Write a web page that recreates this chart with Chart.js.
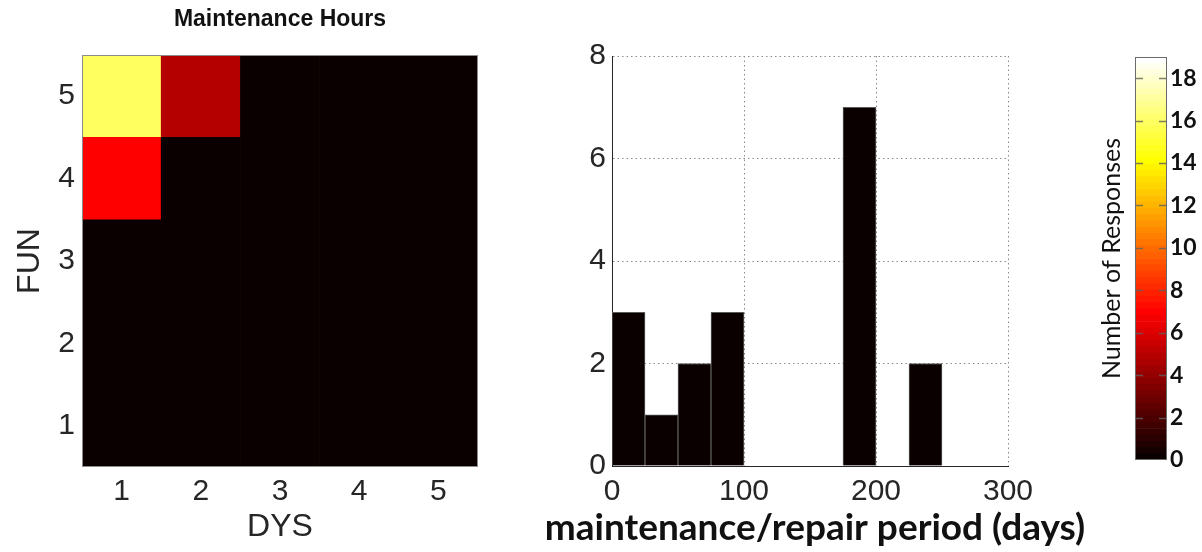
<!DOCTYPE html>
<html>
<head>
<meta charset="utf-8">
<title>Maintenance Hours</title>
<script src="https://cdn.jsdelivr.net/npm/chart.js@4.4.0/dist/chart.umd.min.js"></script>
<style>
  html, body { margin: 0; padding: 0; background: #ffffff; }
  #wrap { position: relative; width: 1202px; height: 552px; overflow: hidden; background: #ffffff; }
  .panel { position: absolute; top: 0; height: 552px; }
  #p1 { left: 0; width: 500px; }
  #p2 { left: 500px; width: 620px; }
  #p3 { left: 1060px; width: 142px; }
</style>
</head>
<body>
<div id="wrap">
  <div class="panel" id="p1"><canvas id="heat"></canvas></div>
  <div class="panel" id="p2"><canvas id="hist"></canvas></div>
  <div class="panel" id="p3"><canvas id="cbar"></canvas></div>
</div>
<script>
// ---- Heat map: responses by DYS (columns) and FUN (rows) ----
const dysLabels = ['1', '2', '3', '4', '5'];
const funLevels = [1, 2, 3, 4, 5];
const fun1 = [0, 0, 0, 0, 0];
const fun2 = [0, 0, 0, 0, 0];
const fun3 = [0, 0, 0, 0, 0];
const fun4 = [7, 0, 0, 0, 0];
const fun5 = [16, 5, 0, 0, 0];
const heatRows = [fun1, fun2, fun3, fun4, fun5];

// ---- Histogram of maintenance/repair period ----
const binCenters = [12.5, 37.5, 62.5, 87.5, 112.5, 137.5, 162.5, 187.5, 212.5, 237.5, 262.5, 287.5];
const binCounts  = [3, 1, 2, 3, 0, 0, 0, 7, 0, 2, 0, 0];
const periodTicks = [0, 100, 200, 300];
const countTicks  = [0, 2, 4, 6, 8];

// ---- Colour scale ----
const colorLimits = [0, 19];
const colorTicks  = [0, 2, 4, 6, 8, 10, 12, 14, 16, 18];
const colorLevels = 64;

// MATLAB-style "hot" colormap, n entries
function hotMap(n) {
  const n1 = Math.floor(3 / 8 * n);
  const n3 = n - 2 * n1;
  const out = [];
  for (let i = 0; i < n; i++) {
    const r = i < n1 ? (i + 1) / n1 : 1;
    const g = i < n1 ? 0 : (i < 2 * n1 ? (i + 1 - n1) / n1 : 1);
    const b = i < 2 * n1 ? 0 : (i + 1 - 2 * n1) / n3;
    out.push('rgb(' + Math.round(r * 255) + ',' + Math.round(g * 255) + ',' + Math.round(b * 255) + ')');
  }
  return out;
}
const hot = hotMap(colorLevels);
function hotColor(v) {
  const t = (v - colorLimits[0]) / (colorLimits[1] - colorLimits[0]);
  const idx = Math.min(colorLevels - 1, Math.max(0, Math.floor(t * colorLevels)));
  return hot[idx];
}

// Outline around the plotting area
const frame = (color) => ({
  id: 'frame',
  afterDatasetsDraw(chart) {
    const a = chart.chartArea, c = chart.ctx;
    c.save();
    c.strokeStyle = color;
    c.lineWidth = 1;
    c.strokeRect(Math.round(a.left) + 0.5, Math.round(a.top) + 0.5,
                 Math.round(a.right - a.left) - 1, Math.round(a.bottom - a.top) - 1);
    c.restore();
  }
});

// Short inward tick marks on both edges of the colour bar, one per scale tick
const edgeTicks = {
  id: 'edgeTicks',
  afterDatasetsDraw(chart, args, opts) {
    const a = chart.chartArea, c = chart.ctx, s = chart.scales[opts.scaleId];
    c.save();
    c.strokeStyle = opts.color;
    c.lineWidth = opts.width;
    s.ticks.forEach((t) => {
      if (t.value === s.min) return;
      const y = Math.round(s.getPixelForValue(t.value)) + 0.5;
      c.beginPath();
      c.moveTo(a.left, y); c.lineTo(a.left + opts.length, y);
      c.moveTo(a.right - opts.length, y); c.lineTo(a.right, y);
      c.stroke();
    });
    c.restore();
  }
};

// Axis caption under the plot that may run wider than the plot itself
const wideCaption = {
  id: 'wideCaption',
  afterDraw(chart, args, opts) {
    const a = chart.chartArea, c = chart.ctx;
    c.save();
    c.font = opts.font;
    c.fillStyle = opts.color;
    c.textAlign = 'center';
    c.textBaseline = 'middle';
    c.fillText(opts.text, (a.left + a.right) / 2 + opts.dx, opts.y);
    c.restore();
  }
};

const arial = 'Liberation Sans, Arial, Helvetica, sans-serif';
const calibri = 'Lato, Carlito, Calibri, sans-serif';
const ink = '#262626';

Chart.defaults.animation = false;
Chart.defaults.devicePixelRatio = 1;

// ---------- Heat map ----------
new Chart(document.getElementById('heat'), {
  type: 'bar',
  data: {
    labels: dysLabels,
    datasets: heatRows.map((row, r) => ({
      label: 'FUN ' + funLevels[r],
      data: row.map(() => [funLevels[r] - 0.5, funLevels[r] + 0.5]),
      backgroundColor: row.map(hotColor),
      borderWidth: 0,
      grouped: false,
      barPercentage: 1,
      categoryPercentage: 1
    }))
  },
  options: {
    responsive: true,
    maintainAspectRatio: false,
    layout: { padding: { left: 0, right: 22, top: 0, bottom: 0 } },
    plugins: { legend: { display: false }, tooltip: { enabled: false } },
    scales: {
      x: {
        type: 'category',
        offset: true,
        grid: { display: false, drawTicks: false },
        border: { display: false },
        ticks: { color: ink, padding: 7, font: { family: arial, size: 30 } },
        title: { display: true, text: 'DYS', color: ink, font: { family: arial, size: 32 }, padding: { top: 0, bottom: 6 } },
        afterFit: (s) => { s.height = 85; }
      },
      // top axis carries the panel heading, centred over the plot
      xTop: {
        type: 'category',
        position: 'top',
        offset: true,
        grid: { display: false, drawTicks: false },
        border: { display: false },
        ticks: { display: false },
        title: {
          display: true, text: 'Maintenance Hours', color: '#111',
          font: { family: arial, size: 23, weight: 'bold', lineHeight: 1.2 }, padding: { top: 6, bottom: 0 }
        },
        afterFit: (s) => { s.height = 55; }
      },
      y: {
        type: 'linear',
        min: 0.5,
        max: 5.5,
        afterBuildTicks: (s) => { s.ticks = funLevels.map(v => ({ value: v })); },
        grid: { display: false, drawTicks: false },
        border: { display: false },
        ticks: { color: ink, padding: 7, font: { family: arial, size: 30 } },
        title: { display: true, text: 'FUN', color: ink, font: { family: arial, size: 32 }, padding: { top: 11, bottom: 0 } },
        afterFit: (s) => { s.width = 82; }
      }
    }
  },
  plugins: [frame('#8c8c8c')]
});

// ---------- Histogram ----------
new Chart(document.getElementById('hist'), {
  type: 'bar',
  data: {
    datasets: [{
      label: 'responses',
      data: binCenters.map((c, i) => ({ x: c, y: binCounts[i] })),
      backgroundColor: '#0b0000',
      borderColor: '#5a5a5a',
      borderWidth: 1,
      barPercentage: 1,
      categoryPercentage: 1
    }]
  },
  options: {
    responsive: true,
    maintainAspectRatio: false,
    layout: { padding: { left: 0, right: 112, top: 56, bottom: 0 } },
    plugins: {
      legend: { display: false },
      tooltip: { enabled: false },
      wideCaption: {
        text: 'maintenance/repair period (days)',
        font: 'bold 37px Lato, Carlito, Calibri, sans-serif',
        color: '#111',
        dx: 5,
        y: 528
      }
    },
    scales: {
      x: {
        type: 'linear',
        min: periodTicks[0],
        max: periodTicks[periodTicks.length - 1],
        offset: false,
        afterBuildTicks: (s) => { s.ticks = periodTicks.map(v => ({ value: v })); },
        grid: { offset: false, color: '#8a8a8a', lineWidth: 1, drawTicks: false },
        border: { display: true, color: ink, width: 1, dash: [1.5, 3] },
        ticks: { color: ink, padding: 8, font: { family: arial, size: 30 } },
        afterFit: (s) => { s.height = 86; }
      },
      y: {
        type: 'linear',
        min: countTicks[0],
        max: countTicks[countTicks.length - 1],
        afterBuildTicks: (s) => { s.ticks = countTicks.map(v => ({ value: v })); },
        grid: { color: '#8a8a8a', lineWidth: 1, drawTicks: false },
        border: { display: true, color: ink, width: 1, dash: [1.5, 3] },
        ticks: { color: ink, padding: 6, font: { family: arial, size: 30 } },
        afterFit: (s) => { s.width = 112; }
      }
    }
  },
  plugins: [wideCaption]
});

// ---------- Colour bar ----------
const levelStep = (colorLimits[1] - colorLimits[0]) / colorLevels;
new Chart(document.getElementById('cbar'), {
  type: 'bar',
  data: {
    labels: [''],
    datasets: hot.map((c, i) => ({
      label: 'level ' + i,
      data: [[colorLimits[0] + i * levelStep, colorLimits[0] + (i + 1) * levelStep]],
      backgroundColor: c,
      borderWidth: 0,
      grouped: false,
      barPercentage: 1,
      categoryPercentage: 1,
      yAxisID: 'y'
    }))
  },
  options: {
    responsive: true,
    maintainAspectRatio: false,
    layout: { padding: { left: 0, right: 0, top: 57, bottom: 92 } },
    plugins: {
      legend: { display: false },
      tooltip: { enabled: false },
      edgeTicks: { scaleId: 'y', color: 'rgba(95,95,95,0.8)', width: 1.5, length: 8 }
    },
    scales: {
      x: { type: 'category', display: false, offset: true },
      yL: {
        type: 'linear',
        position: 'left',
        min: colorLimits[0],
        max: colorLimits[1],
        ticks: { display: false },
        grid: { display: false, drawTicks: false },
        border: { display: false },
        title: {
          display: true, text: 'Number of Responses', color: '#111',
          font: { family: calibri, size: 25, weight: 'normal' }, padding: { top: 37, bottom: 0 }
        },
        afterFit: (s) => { s.width = 75; }
      },
      y: {
        type: 'linear',
        position: 'right',
        min: colorLimits[0],
        max: colorLimits[1],
        afterBuildTicks: (s) => { s.ticks = colorTicks.map(v => ({ value: v })); },
        grid: { display: false, drawTicks: false },
        border: { display: false },
        ticks: { color: '#111', padding: 3, font: { family: calibri, size: 23, weight: 'bold' } },
        afterFit: (s) => { s.width = 35; }
      }
    }
  },
  plugins: [edgeTicks, frame('#6a6a6a')]
});
</script>
</body>
</html>
